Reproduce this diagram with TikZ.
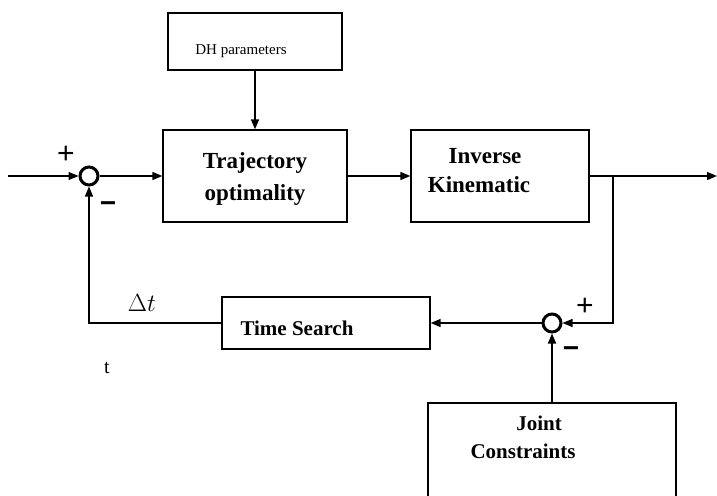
\documentclass[tikz,border=0pt]{standalone}
\usepackage{fontspec}
\setmainfont{Liberation Serif}
\newfontfamily\signfont{Liberation Sans}
\usetikzlibrary{arrows.meta}
\begin{document}
\begin{tikzpicture}[x=1pt,y=-1pt,
  blk/.style={draw, line width=1.3pt, inner sep=0pt},
  sumpt/.style={circle, draw, line width=3pt, minimum size=18pt, inner sep=0pt},
  wire/.style={line width=1.4pt},
  sig/.style={wire, -{Triangle[length=10pt,width=8pt]}},
  boldtxt/.style={font=\fontsize{23}{28}\selectfont\bfseries, inner sep=0pt, anchor=base},
  midtxt/.style={font=\fontsize{21}{26}\selectfont\bfseries, inner sep=0pt, anchor=base},
  plustxt/.style={font=\signfont\fontsize{30}{34}\selectfont, inner sep=0pt},
  minustxt/.style={font=\signfont\bfseries\fontsize{28}{32}\selectfont, inner sep=0pt}
]
\useasboundingbox (0,0) rectangle (717,495);

% blocks
\node[blk, minimum width=174pt, minimum height=57pt] (dh)   at (255,41.5) {};
\node[blk, minimum width=184pt, minimum height=92pt] (traj) at (255,176) {};
\node[blk, minimum width=178pt, minimum height=92pt] (inv)  at (500,176) {};
\node[blk, minimum width=208pt, minimum height=52pt] (ts)   at (326,323) {};
\node[blk, minimum width=248pt, minimum height=117pt] (jc)  at (552,461.5) {};

% summing junctions
\node[sumpt] (s1) at (89,176) {};
\node[sumpt] (s2) at (552,323) {};

% block texts
\node[font=\fontsize{15}{18}\selectfont, inner sep=0pt, anchor=base] (dhtxt) at (241,55) {DH parameters};
\node[boldtxt] (trajA) at (255,168) {Trajectory};
\node[boldtxt] (trajB) at (255,200) {optimality};
\node[boldtxt] (invA) at (485,163) {Inverse};
\node[boldtxt] (invB) at (479,192) {Kinematic};
\node[midtxt] (tstxt) at (297,335) {Time Search};
\node[midtxt] (jcA) at (539,430) {Joint};
\node[midtxt] (jcB) at (523,458) {Constraints};

% signs and signal names
\node[plustxt] (p1) at (66,155) {+};
\node[minustxt] (m1) at (108,207) {−};
\node[plustxt] (p2) at (585,307) {+};
\node[minustxt] (m2) at (571,352) {−};
\node[font=\fontsize{29}{33}\selectfont, inner sep=0pt, anchor=base] (dt) at (142,311) {$\Delta t$};
\node[font=\fontsize{20}{24}\selectfont, inner sep=0pt, anchor=base] (tl) at (107,373) {t};

% free ends
\coordinate (in)  at (8,176);
\coordinate (out) at (717,176);
\coordinate (br)  at (613,176);

% connectors
\draw[sig] (in) -- (s1.west);
\draw[sig] (s1.east) -- (traj.west);
\draw[sig] (dh.south) -- (traj.north);
\draw[sig] (traj.east) -- (inv.west);
\draw[sig] (inv.east) -- (out);
\draw[sig] (br) |- (s2.east);
\draw[sig] (s2.west) -- (ts.east);
\draw[sig] (jc.north) -- (s2.south);
\draw[sig] (ts.west) -| (s1.south);
\end{tikzpicture}
\end{document}
